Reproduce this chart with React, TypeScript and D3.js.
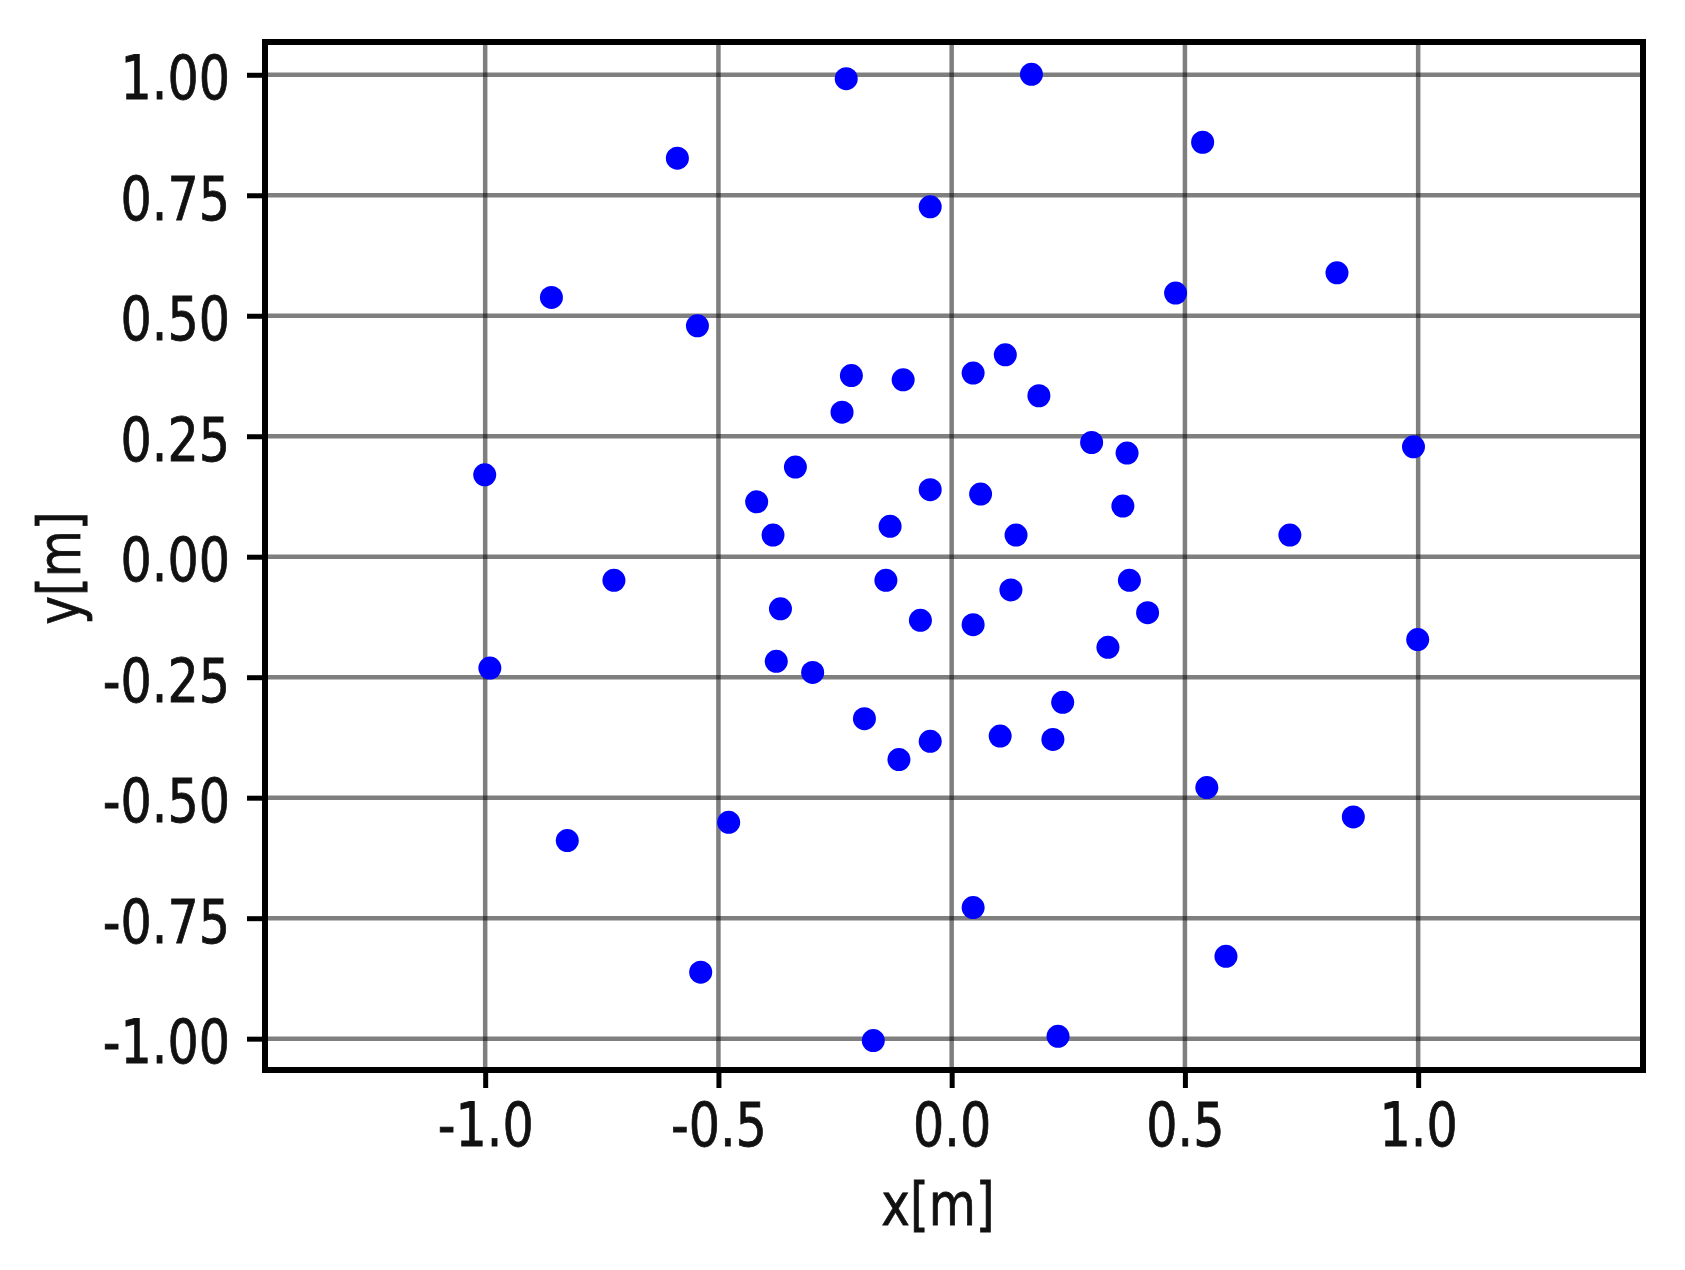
import * as d3 from 'd3';
import { useEffect, useRef } from 'react';

// point positions [m]
const xs = [
  -0.226, 0.171, 0.538, -0.588, -0.046, 0.826, 0.480, -0.858, -0.545, 0.115,
  -0.215, -0.104, 0.046, 0.187, -0.235, 0.300, 0.376, 0.990, -1.001, -0.335,
  -0.418, -0.046, 0.062, 0.367, -0.383, -0.132, 0.138, 0.725, -0.724, -0.141,
  0.381, 0.127, -0.367, 0.420, -0.067, 0.046, 0.999, -0.990, -0.376, -0.298,
  0.335, 0.238, -0.187, -0.046, 0.104, 0.217, -0.113, 0.547, -0.478, 0.861,
  -0.824, 0.046, 0.588, -0.538, -0.168, 0.228,
];
const ys = [
  0.992, 1.001, 0.860, 0.827, 0.726, 0.589, 0.547, 0.538, 0.479, 0.419,
  0.376, 0.367, 0.381, 0.334, 0.300, 0.237, 0.215, 0.228, 0.170, 0.186,
  0.114, 0.139, 0.130, 0.105, 0.045, 0.063, 0.045, 0.045, -0.049, -0.049,
  -0.049, -0.069, -0.108, -0.116, -0.132, -0.141, -0.172, -0.231, -0.217, -0.240,
  -0.188, -0.302, -0.336, -0.383, -0.372, -0.379, -0.421, -0.479, -0.551, -0.540,
  -0.589, -0.728, -0.829, -0.862, -1.004, -0.995,
];
const xTicks = [-1.0, -0.5, 0.0, 0.5, 1.0];
const yTicks = [-1.0, -0.75, -0.5, -0.25, 0.0, 0.25, 0.5, 0.75, 1.0];

const W = 1685;
const H = 1270;
const FONT = "'DejaVu Sans', sans-serif";
const SQ = 0.82; // glyphs in the picture are narrow

export default function App() {
  const svgRef = useRef<SVGSVGElement>(null);

  useEffect(() => {
    const svg = d3.select(svgRef.current);
    svg.selectAll('*').remove();

    const left = 265, right = 1643, top = 42, bottom = 1070;
    const x = d3.scaleLinear().domain([-1.472, 1.482]).range([left, right]);
    const y = d3.scaleLinear().domain([-1.065, 1.068]).range([bottom, top]);

    const g = svg.append('g');

    // grid
    g.selectAll('.vgrid')
      .data(xTicks)
      .enter()
      .append('line')
      .attr('x1', (d) => x(d))
      .attr('x2', (d) => x(d))
      .attr('y1', top)
      .attr('y2', bottom)
      .attr('stroke', '#000')
      .attr('stroke-opacity', 0.5)
      .attr('stroke-width', 4.5);
    g.selectAll('.hgrid')
      .data(yTicks)
      .enter()
      .append('line')
      .attr('x1', left)
      .attr('x2', right)
      .attr('y1', (d) => y(d))
      .attr('y2', (d) => y(d))
      .attr('stroke', '#000')
      .attr('stroke-opacity', 0.5)
      .attr('stroke-width', 4.5);

    // points
    g.selectAll('circle')
      .data(xs.map((v, i) => [v, ys[i]]))
      .enter()
      .append('circle')
      .attr('cx', (d) => x(d[0]))
      .attr('cy', (d) => y(d[1]))
      .attr('r', 11.5)
      .attr('fill', '#0000ff');

    // axes
    const xAxis = g
      .append('g')
      .attr('transform', 'translate(0,' + bottom + ')')
      .call(
        d3.axisBottom(x).tickValues(xTicks).tickSize(18).tickPadding(15)
          .tickFormat((d: any) => d.toFixed(1)),
      );
    const yAxis = g
      .append('g')
      .attr('transform', 'translate(' + left + ',0)')
      .call(
        d3.axisLeft(y).tickValues(yTicks).tickSize(18).tickPadding(17)
          .tickFormat((d: any) => d.toFixed(2)),
      );

    [xAxis, yAxis].forEach((a) => {
      a.select('.domain').remove();
      a.selectAll('line').attr('stroke', '#000').attr('stroke-width', 5);
      a.selectAll('text')
        .attr('font-family', FONT)
        .attr('font-size', 60)
        .attr('fill', '#111')
        .attr('stroke', '#111')
        .attr('stroke-width', 0.8);
    });
    xAxis.selectAll('text').attr('transform', 'scale(' + SQ + ',1)');
    yAxis.selectAll('text')
      .attr('x', -35 / SQ)
      .attr('dy', '0.4em')
      .attr('transform', 'scale(' + SQ + ',1)');

    // frame
    g.append('rect')
      .attr('x', left)
      .attr('y', top)
      .attr('width', right - left)
      .attr('height', bottom - top)
      .attr('fill', 'none')
      .attr('stroke', '#000')
      .attr('stroke-width', 6);

    // titles
    g.append('text')
      .attr('transform', 'translate(938,1225) scale(' + SQ + ',1)')
      .attr('text-anchor', 'middle')
      .attr('font-family', FONT)
      .attr('font-size', 59)
      .attr('fill', '#111')
      .attr('stroke', '#111')
      .attr('stroke-width', 0.8)
      .text('x[m]');
    g.append('text')
      .attr('transform', 'translate(80,568) rotate(-90) scale(' + SQ + ',1)')
      .attr('text-anchor', 'middle')
      .attr('font-family', FONT)
      .attr('font-size', 59)
      .attr('fill', '#111')
      .attr('stroke', '#111')
      .attr('stroke-width', 0.8)
      .text('y[m]');
  }, []);

  return (
    <svg
      ref={svgRef}
      width={W}
      height={H}
      style={{ position: 'absolute', left: 0, top: 0, background: '#fff' }}
    ></svg>
  );
}
